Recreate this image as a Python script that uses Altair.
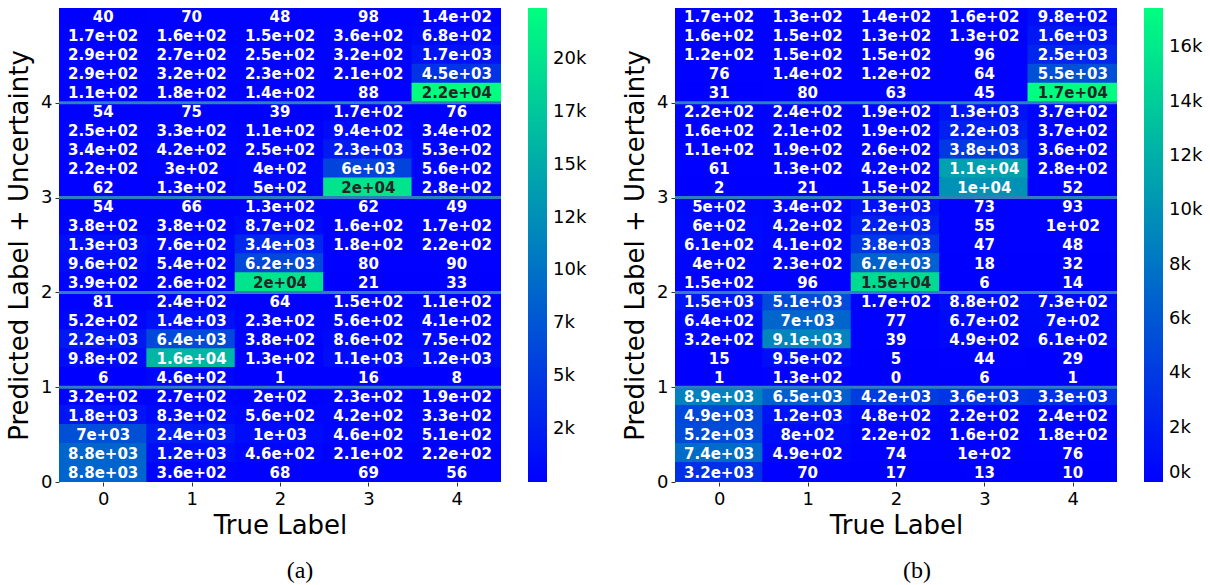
import altair as alt
import pandas as pd

# True-label columns of every matrix
true_labels = [0, 1, 2, 3, 4]

# Panel (a): counts per predicted-label block; each block lists its five
# uncertainty rows from top to bottom, one value per true label.
a_pred4 = [[40, 70, 48, 98, 140],
           [170, 160, 150, 360, 680],
           [290, 270, 250, 320, 1700],
           [290, 320, 230, 210, 4500],
           [110, 180, 140, 88, 22400]]
a_pred3 = [[54, 75, 39, 170, 76],
           [250, 330, 110, 940, 340],
           [340, 420, 250, 2300, 530],
           [220, 300, 400, 6000, 560],
           [62, 130, 500, 20000, 280]]
a_pred2 = [[54, 66, 130, 62, 49],
           [380, 380, 870, 160, 170],
           [1300, 760, 3400, 180, 220],
           [960, 540, 6200, 80, 90],
           [390, 260, 20000, 21, 33]]
a_pred1 = [[81, 240, 64, 150, 110],
           [520, 1400, 230, 560, 410],
           [2200, 6400, 380, 860, 750],
           [980, 16000, 130, 1100, 1200],
           [6, 460, 1, 16, 8]]
a_pred0 = [[320, 270, 200, 230, 190],
           [1800, 830, 560, 420, 330],
           [7000, 2400, 1000, 460, 510],
           [8800, 1200, 460, 210, 220],
           [8800, 360, 68, 69, 56]]

# Panel (b)
b_pred4 = [[170, 130, 140, 160, 980],
           [160, 150, 130, 130, 1600],
           [120, 150, 150, 96, 2500],
           [76, 140, 120, 64, 5500],
           [31, 80, 63, 45, 17450]]
b_pred3 = [[220, 240, 190, 1300, 370],
           [160, 210, 190, 2200, 370],
           [110, 190, 260, 3800, 360],
           [61, 130, 420, 11000, 280],
           [2, 21, 150, 10000, 52]]
b_pred2 = [[500, 340, 1300, 73, 93],
           [600, 420, 2200, 55, 100],
           [610, 410, 3800, 47, 48],
           [400, 230, 6700, 18, 32],
           [150, 96, 15000, 6, 14]]
b_pred1 = [[1500, 5100, 170, 880, 730],
           [640, 7000, 77, 670, 700],
           [320, 9100, 39, 490, 610],
           [15, 950, 5, 44, 29],
           [1, 130, 0, 6, 1]]
b_pred0 = [[8900, 6500, 4200, 3600, 3300],
           [4900, 1200, 480, 220, 240],
           [5200, 800, 220, 160, 180],
           [7400, 490, 74, 100, 76],
           [3200, 70, 17, 13, 10]]

legend_ticks_a = [2500, 5000, 7500, 10000, 12500, 15000, 17500, 20000]
legend_ticks_b = [0, 2000, 4000, 6000, 8000, 10000, 12000, 14000, 16000]
group_edges = [1, 2, 3, 4]

# cells are drawn a hair larger than their slot so neighbours overlap and
# no anti-aliasing seam shows between them
OVERLAP = 0.012


def to_frame(blocks):
    """Flatten the predicted-label blocks into one row per cell."""
    rows = []
    for pred, block in enumerate(blocks):
        for sub, vals in enumerate(block):
            top = pred + 1 - sub * 0.2
            for t, v in zip(true_labels, vals):
                rows.append({"true": t,
                             "x0": t - 0.5 - OVERLAP, "x1": t + 0.5 + OVERLAP,
                             "y0": top - 0.2 - OVERLAP, "y1": top + OVERLAP,
                             "ymid": top - 0.1, "value": v,
                             "label": f"{v:.2g}"})
    return pd.DataFrame(rows)


FONT = "DejaVu Sans"


def panel(blocks, legend_ticks, caption, caption_dx):
    df = to_frame(blocks)
    vmin, vmax = float(df["value"].min()), float(df["value"].max())
    base = alt.Chart(df)
    x_scale = alt.Scale(domain=[-0.5, 4.5], nice=False, zero=False)
    y_scale = alt.Scale(domain=[0, 5], nice=False, zero=False)
    cells = base.mark_rect(clip=True).encode(
        x=alt.X("x0:Q", scale=x_scale, title="True Label",
                axis=alt.Axis(values=true_labels, format="d", grid=False,
                              labelAngle=0, labelFontSize=18,
                              titleFontSize=26, labelFont=FONT,
                              titleFont=FONT, titleFontWeight="normal",
                              labelColor="black", titleColor="black",
                              tickSize=4, tickColor="#333", domain=False,
                              labelPadding=4, titlePadding=4,
                              labelFlush=False)),
        x2="x1:Q",
        y=alt.Y("y0:Q", scale=y_scale,
                title="Predicted Label + Uncertainty",
                axis=alt.Axis(values=[0, 1, 2, 3, 4], format="d", grid=False,
                              domain=False, labelFontSize=18, titleFontSize=26,
                              labelFont=FONT, titleFont=FONT,
                              titleFontWeight="normal", labelColor="black",
                              titleColor="black", tickSize=4,
                              tickColor="#333", labelPadding=3,
                              titlePadding=8, labelFlush=False)),
        y2="y1:Q",
        color=alt.Color(
            "value:Q",
            scale=alt.Scale(domain=[vmin, vmax], range=["#0000ff", "#00ff80"],
                            interpolate="rgb"),
            legend=alt.Legend(title=None, orient="right", direction="vertical",
                              gradientLength=474, gradientThickness=19,
                              values=legend_ticks,
                              labelExpr="floor(datum.value / 1000) + 'k'",
                              labelFontSize=18, labelFont=FONT,
                              labelColor="black", labelBaseline="middle",
                              labelOverlap=False, offset=27, labelOffset=6,
                              gradientStrokeWidth=0)),
    )
    labels = base.mark_text(font=FONT, fontWeight="bold", fontSize=15,
                            baseline="middle").encode(
        x=alt.X("true:Q", scale=x_scale),
        y=alt.Y("ymid:Q", scale=y_scale),
        text="label:N",
        color=alt.condition(f"datum.value / {vmax} > 0.78",
                            alt.value("#262626"), alt.value("white")),
    )
    edges = alt.Chart(pd.DataFrame({"edge": group_edges})).mark_rule(
        color="#2f7fbf", strokeWidth=3
    ).encode(y=alt.Y("edge:Q", scale=y_scale))
    return alt.layer(cells, labels, edges).properties(
        width=442, height=474,
        title=alt.TitleParams(caption, orient="bottom", font="Liberation Serif",
                              fontSize=24, fontWeight="normal", color="black",
                              offset=21, anchor="middle", dx=caption_dx),
    )


left = panel([a_pred0, a_pred1, a_pred2, a_pred3, a_pred4],
             legend_ticks_a, "(a)", 20)
right = panel([b_pred0, b_pred1, b_pred2, b_pred3, b_pred4],
              legend_ticks_b, "(b)", 21)

chart = alt.hconcat(left, right, spacing=35).resolve_scale(
    color="independent"
).properties(
    padding={"left": 6, "top": 8, "right": 0, "bottom": 0}
).configure_view(stroke=None)

chart.save("out.html", embed_options={"renderer": "svg", "actions": False})
